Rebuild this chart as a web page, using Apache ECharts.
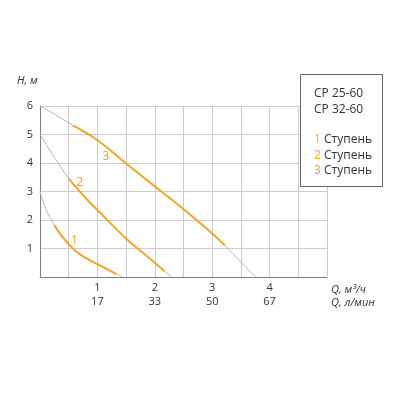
<!DOCTYPE html>
<html lang="ru">
  <head>
    <meta charset="UTF-8" />
    <title>CP 25-60 / CP 32-60</title>
    <script src="https://cdn.jsdelivr.net/npm/echarts@6/dist/echarts.min.js"></script>
    <style>
      html, body { margin: 0; padding: 0; background: #fff; }
      #main { width: 400px; height: 400px; }
    </style>
  </head>
  <body>
    <div id="main"></div>
    <script>
      // подача Q, м³/ч и соответствующие л/мин
      const qTicks = [1, 2, 3, 4];
      const lpmTicks = ["17", "33", "50", "67"];

      // полные кривые (серые), точки [Q, H]
      const stage1 = [[0, 3], [0.1, 2.4], [0.25, 1.82], [0.4, 1.38], [0.6, 0.95], [0.8, 0.66], [1.0, 0.45], [1.2, 0.24], [1.33, 0.1], [1.44, 0]];
      const stage2 = [[0, 5], [0.25, 4.2], [0.5, 3.45], [0.75, 2.87], [1.0, 2.35], [1.5, 1.35], [2.0, 0.5], [2.17, 0.2], [2.3, 0]];
      const stage3 = [[0, 6], [0.3, 5.66], [0.57, 5.32], [1.0, 4.8], [1.5, 3.98], [2.0, 3.18], [2.5, 2.38], [3.0, 1.53], [3.22, 1.11], [3.5, 0.52], [3.76, 0]];

      // рабочие участки (оранжевые): индексы начала и конца
      const work1 = [2, 8];
      const work2 = [2, 7];
      const work3 = [2, 8];

      // где подписать номер ступени
      const stageLabels = ["1", "2", "3"];
      const stageLabelAt = [[0.6, 1.29], [0.69, 3.33], [1.15, 4.23]];

      const models = ["CP 25-60", "CP 32-60"];

      const orange = "#f5a623";
      const gray = "#b8b8b8";
      const textColor = "#333";
      const font = "'Open Sans', sans-serif";

      const chart = echarts.init(document.getElementById("main"));

      const curves = [stage1, stage2, stage3];
      const works = [work1, work2, work3];
      const series = [];

      curves.forEach((c) => {
        series.push({
          type: "line",
          data: c,
          smooth: 0.4,
          symbol: "none",
          lineStyle: { color: gray, width: 1 },
          silent: true,
          z: 2,
        });
      });

      curves.forEach((c, i) => {
        series.push({
          type: "line",
          data: c.slice(works[i][0], works[i][1] + 1),
          smooth: 0.4,
          symbol: "none",
          lineStyle: { color: orange, width: 2 },
          silent: true,
          z: 3,
          markPoint: {
            symbol: "circle",
            symbolSize: 0,
            data: [{ coord: stageLabelAt[i], value: stageLabels[i] }],
            label: {
              show: true,
              position: "inside",
              formatter: stageLabels[i],
              color: orange,
              fontSize: 12,
              fontFamily: font,
            },
          },
        });
      });

      const option = {
        animation: false,
        grid: {
          left: 40,
          right: 73,
          top: 106,
          bottom: 123,
          containLabel: false,
          outerBoundsMode: "none",
        },
        xAxis: {
          type: "value",
          min: 0,
          max: 5,
          interval: 0.5,
          axisLine: { lineStyle: { color: "#808080", width: 1 } },
          axisTick: { show: false },
          splitLine: { show: true, lineStyle: { color: "#cccccc", width: 1 } },
          axisLabel: {
            margin: 4,
            color: textColor,
            fontSize: 11,
            fontFamily: font,
            lineHeight: 14,
            formatter: (v) => {
              const i = qTicks.indexOf(v);
              return i < 0 ? "" : v + "\n" + lpmTicks[i];
            },
          },
        },
        yAxis: {
          type: "value",
          min: 0,
          max: 6,
          interval: 1,
          axisLine: { show: true, lineStyle: { color: "#808080", width: 1 } },
          axisTick: { show: false },
          splitLine: { show: true, lineStyle: { color: "#cccccc", width: 1 } },
          axisLabel: {
            margin: 7,
            color: textColor,
            fontSize: 11,
            fontFamily: font,
            padding: [0, 0, 8, 0],
            formatter: (v) => (v === 0 ? "" : String(v)),
          },
        },
        graphic: [
          {
            type: "text",
            left: 17,
            top: 75,
            style: {
              text: "H, м",
              fill: textColor,
              font: "italic 11px " + font,
            },
          },
          {
            type: "text",
            left: 331,
            top: 283,
            style: {
              text: "Q, м³/ч\nQ, л/мин",
              fill: textColor,
              font: "italic 11px " + font,
              lineHeight: 13,
            },
          },
          {
            type: "rect",
            shape: { x: 300.5, y: 74.5, width: 82, height: 112 },
            style: { fill: "#fff", stroke: "#666", lineWidth: 1 },
            z: 10,
          },
          {
            type: "text",
            left: 314,
            top: 86,
            z: 11,
            style: {
              text:
                models.join("\n") +
                "\n\n" +
                stageLabels.map((s) => "{n|" + s + "} Ступень").join("\n"),
              fill: textColor,
              font: "12px " + font,
              lineHeight: 15.4,
              rich: {
                n: { fill: orange, font: "12px " + font, lineHeight: 15.4 },
              },
            },
          },
        ],
        series: series,
      };

      chart.setOption(option);
    </script>
  </body>
</html>
